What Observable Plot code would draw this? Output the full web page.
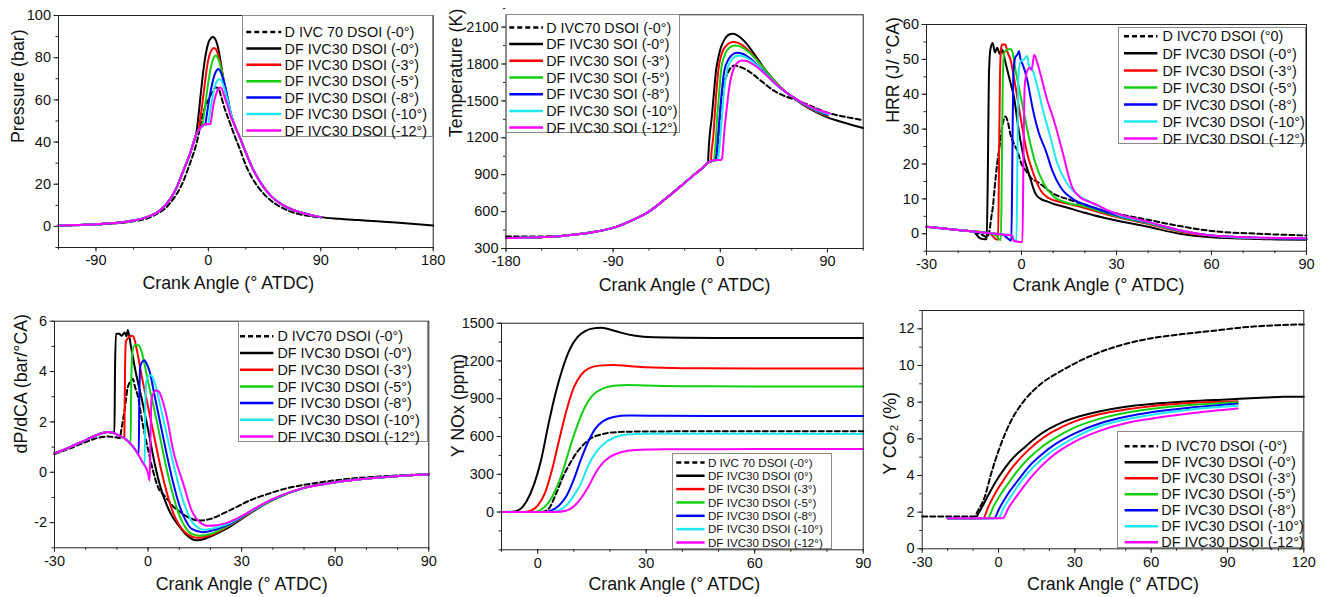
<!DOCTYPE html>
<html><head><meta charset="utf-8">
<script src="https://cdn.jsdelivr.net/npm/d3@7"></script>
<script src="https://cdn.jsdelivr.net/npm/@observablehq/plot@0.6"></script>
<style>
body{margin:0;background:#fff;}
#root{position:relative;width:1327px;height:597px;overflow:hidden;background:#fff;font-family:"Liberation Sans",Arial,sans-serif;}
.panel{position:absolute;}
.legend{position:absolute;background:#fff;border:1px solid #8a8a8a;box-sizing:border-box;}
.legend svg{position:absolute;left:0;top:0;overflow:visible;}
</style></head><body><div id="root"></div>
<script>
// ---------- shared ----------
const seriesColors = ["#000000","#000000","#ff0000","#10d010","#0000ff","#20e8f0","#ff00ff"];

// ---------- Panel 1: Pressure (bar) ----------
const pressureCommon = [[-120,0.4],[-105,0.65],[-90,1.0],[-75,1.6],[-60,2.8],[-50,4.3],[-40,7],[-30,13.5],[-25,19],[-20,26.5],[-15,34],[-12,39.5],[-10,43.2]];
const pressureExpansion = [[20,49.5],[22,46.5],[25,42.5],[30,35],[35,28],[40,22.5],[45,18],[50,14.5],[60,10],[70,7.3],[80,5.7],[90,4.4]];
const pressureTail0 = [[105,3.6],[120,3],[135,2.4],[150,1.8],[165,1.1],[180,0.4]];
const pressureD70 = [[-120,0.4],[-90,0.9],[-60,2.4],[-45,4.8],[-30,11.5],[-20,21.5],[-16,27.8],[-12,34.5],[-9,40.5],[-6,49],[-3,56],[0,60],[3,63.5],[6,65.9],[8,65.5],[10,62],[13,56],[17,49.5],[21,43],[25,37],[30,29],[35,23],[40,18.5],[45,15],[50,12.3],[60,8.5],[70,6.2],[80,5],[90,4.2]];
const pressureDF0 = [[-9,47],[-8,52],[-6,63.5],[-4,74],[-2,82],[0,87],[2,89.3],[3.5,89.8],[5,89.3],[7,86.5],[9,81],[11,73.5],[13,66],[16,58],[18,53]];
const pressureDF3 = [[-8,45.5],[-7,49],[-5,57.5],[-3,67],[-1,76],[1,81.5],[3,84],[4.3,84.6],[6,84],[8,81],[10,76],[12,70],[14,64],[16,58],[18,53]];
const pressureDF5 = [[-8,45.5],[-6,47],[-5.3,47.3],[-4,51],[-2,60],[0,68.5],[2,75.5],[4,79.5],[5.6,81],[7,80.5],[9,77.5],[11,73],[13,67.5],[15,62],[17,56],[18.5,52.5]];
const pressureDF8 = [[-8,45.5],[-6,47],[-4,48],[-3,48.3],[-2.5,48.6],[-1,54],[1,61.5],[3,67.5],[5,72],[7,74.3],[8,74.6],[10,73],[12,69.5],[14,65],[16,59.5],[18,53.5]];
const pressureDF10 = [[-8,45.5],[-6,47],[-4,48],[-2,48.4],[-0.2,48.6],[1,53],[3,60.5],[5,66],[7,69],[8.8,69.8],[10.5,69],[12.5,66],[15,61],[18,53.5]];
const pressureDF12 = [[-8,45.5],[-6,47],[-4,48],[-2,48.4],[1.6,48.5],[2.5,51.5],[4,57.5],[6,62.5],[8,65.3],[9.6,65.9],[11,65],[12.8,61.5],[15.5,57],[18.2,51.6]];
const pressureLegend = ["D IVC 70 DSOI (-0°)","DF IVC30 DSOI (-0°)","DF IVC30 DSOI (-3°)","DF IVC30 DSOI (-5°)","DF IVC30 DSOI (-8°)","DF IVC30 DSOI (-10°)","DF IVC30 DSOI (-12°)"];
const pressureXTicks = [-90,0,90,180];
const pressureYTicks = [0,20,40,60,80,100];

// ---------- Panel 2: Temperature (K) ----------
const tempCommon = [[-180,385],[-165,387],[-150,392],[-135,400],[-120,415],[-105,437],[-90,468],[-75,525],[-60,600],[-45,712],[-30,833],[-20,915],[-15,955],[-12,983],[-10.5,998]];
const tempD70 = [[-180,398],[-160,397],[-140,400],[-120,417],[-105,438],[-90,469],[-75,526],[-60,601],[-45,713],[-30,834],[-20,916],[-15,956],[-12,984],[-10,1000],[-8,1008],[-6,1015],[-4,1030],[-2,1150],[0,1420],[2,1600],[5,1700],[8,1758],[11.7,1787],[16,1778],[23,1747],[34,1665],[45,1583],[56,1532],[63,1510],[70,1484],[80,1442],[90,1404],[105,1370],[120,1344]];
const tempDF0 = [[-9.5,1150],[-8.5,1260],[-7.5,1339],[-5.5,1550],[-3.6,1746],[-1.5,1860],[0.6,1937],[3,1990],[5,2020],[7.5,2040],[10.4,2046],[14,2035],[18,2005],[22,1965],[26,1915],[30,1860],[35,1790],[40,1725],[45,1668],[50,1615],[54,1578],[58,1550],[63,1515],[70,1465],[80,1410],[90,1366],[105,1320],[120,1279]];
const tempDF3 = [[-8,1005],[-7.3,1100],[-6,1200],[-5,1339],[-3.5,1550],[-1.7,1747],[1,1880],[5,1950],[8,1972],[11.2,1978],[15,1972],[19,1950],[23,1917],[27,1877],[31,1830],[36,1770],[41,1712],[46,1658],[51,1608],[58,1550],[63,1517],[70,1470],[80,1417],[90,1377]];
const tempDF5 = [[-8,1008],[-5.5,1012],[-4,1150],[-2.8,1339],[-1,1560],[0.6,1747],[4,1880],[8,1935],[12.3,1951],[16,1945],[20,1925],[25,1887],[30,1838],[35,1782],[40,1724],[45,1668],[50,1615],[58,1550],[63,1518],[70,1473],[80,1421],[90,1382]];
const tempDF8 = [[-8,1008],[-6,1015],[-3.8,1017],[-2,1200],[-0.8,1339],[1,1550],[3.4,1747],[7,1840],[10,1875],[14,1891],[18,1886],[22,1867],[26,1838],[30,1803],[35,1755],[40,1703],[45,1652],[50,1606],[58,1550],[63,1519],[70,1475],[80,1425],[90,1387]];
const tempDF10 = [[-8,1008],[-6,1015],[-4,1018],[-2,1019],[-0.5,1150],[1.1,1339],[3,1560],[5.6,1747],[10,1840],[15.1,1869],[19,1863],[23,1846],[27,1820],[31,1787],[36,1742],[41,1693],[46,1644],[51,1600],[58,1550],[63,1520],[70,1477],[80,1429],[91,1392]];
const tempDF12 = [[-8,1008],[-6.4,1016],[-3,1019],[0.6,1020],[1.4,1030],[3.4,1257],[5.5,1450],[7.5,1610],[11.7,1774],[15,1815],[17.9,1828],[21,1826],[25,1812],[29,1788],[33,1758],[38,1715],[43,1670],[48,1626],[53,1588],[58,1550],[63,1521],[70,1480],[80,1434],[92,1398]];
const tempLegend = ["D IVC70 DSOI (-0°)","DF IVC30 SOI (-0°)","DF IVC30 SOI (-3°)","DF IVC30 SOI (-5°)","DF IVC30 SOI (-8°)","DF IVC30 SOI (-10°)","DF IVC30 SOI (-12°)"];
const tempXTicks = [-180,-90,0,90];
const tempYTicks = [300,600,900,1200,1500,1800,2100];

// ---------- Panel 3: HRR (J/°CA) ----------
const hrrD70 = [[-30,2],[-20,1.05],[-15,0.5],[-12,-0.5],[-11,-1],[-10.2,0.5],[-9.5,5],[-9,8],[-8.5,13],[-7.7,20],[-6.8,26],[-6.1,30.7],[-5.1,33.6],[-4.3,32],[-3.5,28.5],[-2.5,26],[-1.4,24],[0,20],[1.3,18.2],[3,16],[5,14.9],[10,11.5],[15,9.8],[20,8.3],[25,6.9],[30,5.8],[40,4],[50,2.2],[60,0.8],[75,0],[90,-0.5]];
const hrrDF0 = [[-30,2],[-20,1.05],[-15,0.6],[-14,-0.5],[-13,-1.3],[-11.5,-1.6],[-11,-1.5],[-10.6,20],[-10.3,45],[-9.8,53],[-9.1,54.7],[-8.4,52],[-7.7,53.3],[-6.8,51.5],[-6.1,52.8],[-5.3,50],[-4.5,47],[-3.4,43],[-2.4,39.3],[-0.9,29.8],[0.7,22],[2.3,17.3],[4.4,11.5],[6,10],[8,9.3],[10,8.6],[14,7.6],[20,6],[25,4.8],[30,3.8],[40,2],[50,0],[60,-1],[75,-1.5],[90,-1.7]];
const hrrDF3 = [[-30,2],[-20,1.05],[-10,0.15],[-9,-0.8],[-8,-1.6],[-7.4,-1.7],[-7.1,20],[-6.8,45],[-6.4,53.5],[-6.1,54.3],[-5.1,54.3],[-4.4,52],[-3.5,50],[-1.9,42.2],[0.2,30.7],[1.8,23],[3.4,18.2],[6,12.5],[8.6,10.2],[12,9.2],[16,8.3],[20,7.4],[25,6],[30,4.8],[40,2.8],[50,0.6],[60,-0.6],[75,-1.3],[90,-1.5]];
const hrrDF5 = [[-30,2],[-20,1.05],[-10,0.15],[-8,-0.6],[-7,-1.6],[-6.5,-1.8],[-6.2,20],[-5.9,45],[-5.4,52],[-4.5,52.8],[-3.5,53],[-3,52.5],[-1.9,47],[0.2,37.4],[2.3,27.8],[4.4,20.2],[7,14.4],[10.2,10.6],[14.4,8.9],[20,7.8],[25,6.4],[30,5],[40,3],[50,0.8],[60,-0.5],[75,-1.2],[90,-1.4]];
const hrrDF8 = [[-30,2],[-20,1.05],[-10,0.15],[-6,-0.2],[-4.5,-1.2],[-3.2,-2],[-2.9,20],[-2.6,45],[-2,50.5],[-1.2,51.5],[-0.8,52.3],[-0.3,50],[0.4,48.5],[1.8,44.2],[3.4,36.5],[5.5,28.8],[7.6,24],[9.7,18.2],[12.3,13.4],[16.5,9.8],[20,8.4],[25,6.8],[30,5.3],[40,3.2],[50,0.9],[60,-0.5],[75,-1.2],[90,-1.4]];
const hrrDF10 = [[-30,2],[-20,1.05],[-10,0.15],[-6,-0.2],[-3,-0.5],[-2,-2.1],[-1.6,-2.2],[-1.3,20],[-1.0,45],[-0.3,49.5],[0.8,50],[1.8,51],[2.4,48],[3.2,47.5],[5,42.2],[7,34.6],[9.1,27.8],[11.3,20.2],[14.4,14.4],[18.6,10.6],[22,9],[26,7.2],[30,5.6],[40,3.3],[50,1],[60,-0.5],[75,-1.2],[90,-1.3]];
const hrrDF12 = [[-30,2],[-20,1.05],[-10,0.15],[-6,-0.2],[-3,-0.5],[-2.5,-2],[0.3,-2.4],[0.6,20],[1.0,42],[1.6,46],[2.5,47.5],[3.2,47],[4,51.3],[5,49],[6.5,44],[8.1,38.4],[10.2,32.6],[12.8,24],[16,13.4],[18.6,10.4],[21,9.3],[24,8.2],[27,6.8],[30,5.8],[40,3.4],[50,1],[60,-0.5],[75,-1.1],[90,-1.3]];
const hrrLegend = ["D IVC70 DSOI (°0)","DF IVC30 DSOI (-0°)","DF IVC30 DSOI (-3°)","DF IVC30 DSOI (-5°)","DF IVC30 DSOI (-8°)","DF IVC30 DSOI (-10°)","DF IVC30 DSOI (-12°)"];
const hrrXTicks = [-30,0,30,60,90];
const hrrYTicks = [0,10,20,30,40,50,60];

// ---------- Panel 4: dP/dCA (bar/°CA) ----------
const dpCommon = [[-30,0.75],[-25,1.0],[-20,1.28],[-16,1.5],[-13,1.6],[-11,1.56]];
const dpTail = [[50,-0.62],[60,-0.4],[75,-0.2],[90,-0.08]];
const dpD70 = [[-30,0.72],[-25,0.95],[-20,1.2],[-16,1.37],[-13,1.42],[-10,1.38],[-9,1.36],[-8.6,1.66],[-7.5,2.5],[-6.5,3.38],[-5.4,3.64],[-4.9,3.71],[-4.2,3.4],[-3.2,2.98],[-2,2.1],[-1.1,1.53],[0,0.9],[1.5,0.1],[3.2,-0.6],[5,-0.9],[6.5,-1.12],[8,-1.35],[9.7,-1.52],[12.9,-1.79],[16.7,-1.92],[20,-1.85],[25,-1.58],[28,-1.4],[33,-1.1],[38,-0.88],[45,-0.62],[50,-0.5],[60,-0.32],[75,-0.16],[90,-0.08]];
const dpDF0 = [[-10.8,1.55],[-10.6,4],[-10.3,5.5],[-9.2,5.5],[-8.5,5.42],[-7.5,5.55],[-6.9,5.4],[-6.5,5.65],[-5.5,5.0],[-4,4.0],[-2,2.9],[0,1.7],[2.2,0.3],[4,-0.6],[5.4,-1.12],[7.5,-1.7],[9.7,-2.1],[12,-2.45],[15.5,-2.7],[18,-2.65],[20,-2.55],[25,-2.25],[30,-1.85],[35,-1.45],[40,-1.1]];
const dpDF3 = [[-10,1.5],[-8,1.38],[-7.6,1.36],[-7.4,4],[-7.1,5.2],[-6.2,5.35],[-5.5,5.42],[-4.7,5.4],[-4.2,5.2],[-3.5,4.8],[-2,3.8],[0,2.6],[2,1.4],[4,0.2],[6,-0.8],[8,-1.6],[10,-2.1],[12,-2.4],[16,-2.6],[20,-2.5],[25,-2.2],[30,-1.82],[35,-1.43],[40,-1.1]];
const dpDF5 = [[-10,1.5],[-8,1.38],[-6,1.18],[-5.6,1.12],[-5.4,3.5],[-5.0,4.8],[-4.2,5.05],[-3.2,5.05],[-2.5,4.95],[-1.5,4.5],[0,3.6],[2,2.5],[4,1.3],[6,0.1],[8,-0.9],[10,-1.7],[12,-2.2],[14,-2.45],[16.5,-2.52],[20,-2.45],[25,-2.17],[30,-1.8],[35,-1.42],[40,-1.1]];
const dpDF8 = [[-10,1.5],[-8,1.38],[-6,1.18],[-4,0.88],[-3,0.7],[-2.8,3],[-2.5,4.2],[-1.8,4.4],[-1.2,4.45],[-0.6,4.35],[0.5,4.0],[2,3.1],[4,1.9],[6,0.7],[8,-0.4],[10,-1.3],[12,-1.9],[14,-2.25],[17.5,-2.38],[20,-2.33],[25,-2.12],[30,-1.78],[35,-1.4],[40,-1.08]];
const dpDF10 = [[-10,1.5],[-8,1.38],[-6,1.18],[-4,0.88],[-2,0.45],[-1.1,0.27],[-0.9,2.5],[-0.6,3.6],[0,3.8],[0.8,3.85],[1.6,3.75],[2.5,3.4],[4,2.6],[6,1.5],[8,0.4],[10,-0.6],[12,-1.4],[14,-1.95],[16,-2.2],[18,-2.28],[20,-2.25],[25,-2.08],[30,-1.76],[35,-1.4],[40,-1.07]];
const dpDF12 = [[-10,1.5],[-8,1.38],[-6,1.18],[-4,0.88],[-2,0.45],[0,-0.05],[0.5,-0.33],[0.8,1.5],[1.1,2.9],[1.6,3.1],[2.5,3.25],[3.5,3.2],[4.5,2.9],[6,2.2],[8,0.9],[11.3,-0.46],[14,-1.52],[17.3,-2.05],[19,-2.12],[22,-2.1],[25,-2.02],[30,-1.74],[35,-1.38],[40,-1.06]];
const dpLegend = ["D IVC70 DSOI (-0°)","DF IVC30 DSOI (-0°)","DF IVC30 DSOI (-3°)","DF IVC30 DSOI (-5°)","DF IVC30 DSOI (-8°)","DF IVC30 DSOI (-10°)","DF IVC30 DSOI (-12°)"];
const dpXTicks = [-30,0,30,60,90];
const dpYTicks = [-2,0,2,4,6];

// ---------- Panel 5: Y NOx (ppm) ----------
const noxD70 = [[-10,0],[-5,0],[1,0],[3,25],[5,140],[7,280],[9,390],[11,480],[13,545],[15,590],[18,620],[22,635],[30,640],[45,641],[90,641]];
const noxDF0 = [[-10,0],[-7,2],[-5,20],[-3,90],[-1,220],[1,420],[3,700],[5,950],[7,1150],[9,1300],[11,1390],[13,1435],[15,1457],[17.5,1463],[20,1450],[23,1425],[27,1400],[32,1388],[40,1384],[60,1383],[90,1383]];
const noxDF3 = [[-10,0],[-4,0],[-2,10],[0,50],[2,150],[4,340],[6,580],[8,810],[10,990],[12,1090],[14,1140],[17,1163],[21,1168],[25,1160],[30,1150],[40,1143],[60,1141],[90,1141]];
const noxDF5 = [[-10,0],[-1,0],[1,20],[3,75],[5,180],[7,330],[9,520],[11,690],[13,830],[15,920],[18,980],[22,1005],[25,1010],[30,1005],[40,1000],[60,998],[90,997]];
const noxDF8 = [[-10,0],[2,0],[4,15],[6,55],[8,130],[10,260],[12,420],[14,560],[16,665],[18,720],[21,755],[25,766],[35,764],[60,763],[90,762]];
const noxDF10 = [[-10,0],[3.5,0],[6,15],[8,55],[10,130],[12,230],[14,370],[16,470],[18,535],[21,590],[25,615],[30,622],[60,621],[90,620]];
const noxDF12 = [[-10,0],[5,0],[8,12],[10,45],[12,110],[14,200],[16,310],[18,390],[20,438],[23,475],[27,492],[35,498],[60,500],[90,500]];
const noxLegend = ["D IVC 70 DSOI (-0°)","DF IVC30 DSOI (0°)","DF IVC30 DSOI (-3°)","DF IVC30 DSOI (-5°)","DF IVC30 DSOI (-8°)","DF IVC30 DSOI (-10°)","DF IVC30 DSOI (-12°)"];
const noxXTicks = [0,30,60,90];
const noxYTicks = [0,300,600,900,1200,1500];

// ---------- Panel 6: Y CO2 (%) ----------
const co2D70 = [[-30,1.76],[-20,1.76],[-9.5,1.76],[-8,2.1],[-5.5,2.8],[-2.9,4.1],[0.4,5.5],[5,7.0],[10.2,8.1],[16.7,9.0],[24.6,9.7],[35,10.45],[45.5,11.0],[58.6,11.45],[71.6,11.7],[84.7,11.9],[97.8,12.1],[110,12.2],[120,12.24]];
const co2DF0 = [[-20,1.67],[-9,1.67],[-8,1.9],[-6,2.4],[-3,3.2],[0,3.9],[3,4.5],[6,5.0],[10,5.5],[15,6.1],[20,6.55],[25,6.9],[30,7.15],[40,7.5],[50,7.75],[60,7.9],[75,8.05],[90,8.15],[105,8.25],[112,8.3],[120,8.3]];
const co2DF3 = [[-20,1.67],[-6,1.67],[-4,2.3],[-1,3.1],[2,3.75],[5.5,4.45],[10,5.15],[15,5.78],[20,6.28],[25,6.65],[30,6.95],[40,7.35],[50,7.6],[60,7.78],[75,7.95],[94,8.05]];
const co2DF5 = [[-20,1.67],[-4.3,1.67],[-2,2.3],[1,3.0],[4,3.6],[8,4.35],[12,4.95],[17,5.55],[22,6.02],[30,6.62],[40,7.1],[50,7.42],[60,7.63],[75,7.84],[94,8.0]];
const co2DF8 = [[-20,1.67],[-1.8,1.67],[0.5,2.25],[3.5,2.95],[7.5,3.7],[12,4.5],[17,5.15],[22,5.68],[30,6.3],[40,6.85],[50,7.2],[60,7.45],[75,7.7],[94,7.92]];
const co2DF10 = [[-20,1.67],[-0.2,1.67],[2.3,2.3],[5.3,2.95],[9,3.7],[14,4.5],[20,5.22],[25,5.68],[30,6.08],[40,6.7],[50,7.05],[60,7.3],[75,7.58],[94,7.8]];
const co2DF12 = [[-20,1.67],[1.6,1.67],[4,2.25],[7,2.85],[11,3.6],[16,4.4],[22,5.15],[30,5.85],[40,6.45],[50,6.85],[60,7.1],[75,7.38],[94,7.65]];
const co2Legend = ["D IVC70 DSOI (-0°)","DF IVC30 DSOI (-0°)","DF IVC30 DSOI (-3°)","DF IVC30 DSOI (-5°)","DF IVC30 DSOI (-8°)","DF IVC30 DSOI (-10°)","DF IVC30 DSOI (-12°)"];
const co2XTicks = [-30,0,30,60,90,120];
const co2YTicks = [0,2,4,6,8,10,12];

// ---------- build ----------
const root = document.getElementById("root");
const FONT = '"Liberation Sans", Arial, sans-serif';
const fmt = d => String(d);
const range = (a, b, s) => d3.range(a, b + s / 2, s);

function panel(cfg) {
  const marks = [
    Plot.axisX(cfg.xMinor, {tickSize: 2.5, tickFormat: () => "", label: null, stroke: "#222"}),
    Plot.axisX(cfg.xTicks, {tickSize: 4.5, tickPadding: 3, tickFormat: fmt, label: null, fontSize: 14.5, stroke: "#222", fill: "#111"}),
    Plot.axisY(cfg.yMinor, {tickSize: 2.5, tickFormat: () => "", label: null, stroke: "#222"}),
    Plot.axisY(cfg.yTicks, {tickSize: 4.5, tickPadding: 3, tickFormat: fmt, label: null, fontSize: 14.5, stroke: "#222", fill: "#111"})
  ];
  cfg.series.forEach((s, i) => {
    marks.push(Plot.line(s, {x: d => d[0], y: d => d[1], stroke: seriesColors[i], strokeWidth: 2,
      strokeDasharray: i === 0 ? "5,3" : null, curve: "monotone-x"}));
  });
  marks.push(Plot.frame({stroke: "#222", strokeWidth: 1}));
  marks.push(Plot.text([cfg.xLabel], {text: d => d, frameAnchor: "bottom", dy: cfg.xLabelDy, dx: cfg.xLabelDx,
    fontSize: 17.8, lineAnchor: "middle", fill: "#111"}));
  marks.push(Plot.text([cfg.yLabel], {text: d => d, frameAnchor: "left", rotate: -90, dx: cfg.yLabelDx, dy: cfg.yLabelDy,
    fontSize: 17.8, lineAnchor: "middle", fill: "#111"}));
  const chart = Plot.plot({
    width: cfg.width, height: cfg.height,
    marginLeft: cfg.m[0], marginRight: cfg.m[1], marginTop: cfg.m[2], marginBottom: cfg.m[3],
    x: {type: "linear", domain: cfg.xDomain},
    y: {type: "linear", domain: cfg.yDomain},
    style: {fontFamily: FONT, fontSize: "14.5px", color: "#111", background: "transparent", overflow: "visible"},
    marks
  });
  const holder = document.createElement("div");
  holder.className = "panel";
  holder.style.left = cfg.left + "px";
  holder.style.top = cfg.top + "px";
  holder.appendChild(chart);
  root.appendChild(holder);

  // legend
  const L = cfg.legend;
  const box = document.createElement("div");
  box.className = "legend";
  const w = L.box[2] - L.box[0], h = L.box[3] - L.box[1];
  Object.assign(box.style, {left: L.box[0] + "px", top: L.box[1] + "px", width: w + "px", height: h + "px"});
  let svg = `<svg width="${w}" height="${h}" font-family='${FONT}' font-size="${L.fontSize}">`;
  cfg.labels.forEach((lab, i) => {
    const y = L.rowTop + i * L.step;
    svg += `<line x1="${L.x0}" x2="${L.x1}" y1="${y}" y2="${y}" stroke="${seriesColors[i]}" stroke-width="2.5"${i === 0 ? ' stroke-dasharray="5,3"' : ''}/>`;
    svg += `<text x="${L.tx}" y="${y}" dy="0.36em" fill="#111">${lab}</text>`;
  });
  svg += `</svg>`;
  box.innerHTML = svg;
  root.appendChild(box);
}

const xTitle = "Crank Angle (° ATDC)";

panel({left: 0, top: 0, width: 440, height: 300, m: [58, 7.3, 15, 53],
  xDomain: [-120, 180], yDomain: [-10, 100],
  xTicks: pressureXTicks, xMinor: range(-120, 180, 30), yTicks: pressureYTicks, yMinor: range(-10, 100, 10),
  series: [pressureD70, pressureCommon.concat(pressureDF0, pressureExpansion, pressureTail0), pressureCommon.concat(pressureDF3, pressureExpansion),
    pressureCommon.concat(pressureDF5, pressureExpansion), pressureCommon.concat(pressureDF8, pressureExpansion),
    pressureCommon.concat(pressureDF10, pressureExpansion), pressureCommon.concat(pressureDF12, pressureExpansion)],
  labels: pressureLegend, xLabel: xTitle, yLabel: "Pressure (bar)",
  xLabelDy: 36, xLabelDx: -17.5, yLabelDx: -40.5, yLabelDy: 11.5,
  legend: {box: [241.7, 15, 432.7, 136.7], rowTop: 16, step: 16.4, x0: 3.3, x1: 38.3, tx: 41.6, fontSize: 14.4}
});

panel({left: 440, top: 0, width: 440, height: 300, m: [65.5, 17.3, 14.3, 52],
  xDomain: [-180, 120], yDomain: [300, 2200],
  xTicks: tempXTicks, xMinor: range(-180, 120, 30), yTicks: tempYTicks, yMinor: range(300, 2200, 150),
  series: [tempD70, tempCommon.concat(tempDF0), tempCommon.concat(tempDF3), tempCommon.concat(tempDF5),
    tempCommon.concat(tempDF8), tempCommon.concat(tempDF10), tempCommon.concat(tempDF12)],
  labels: tempLegend, xLabel: xTitle, yLabel: "Temperature (K)",
  xLabelDy: 37, xLabelDx: 0, yLabelDx: -49.7, yLabelDy: 5.5,
  legend: {box: [505.7, 14.3, 680, 133.3], rowTop: 12.4, step: 16.7, x0: 2.3, x1: 36, tx: 39.3, fontSize: 14.3}
});

panel({left: 880, top: 0, width: 447, height: 300, m: [46, 21, 24, 49.3],
  xDomain: [-30, 90], yDomain: [-5, 60],
  xTicks: hrrXTicks, xMinor: range(-30, 90, 10), yTicks: hrrYTicks, yMinor: range(-5, 60, 5),
  series: [hrrD70, hrrDF0, hrrDF3, hrrDF5, hrrDF8, hrrDF10, hrrDF12],
  labels: hrrLegend, xLabel: xTitle, yLabel: "HRR (J/ °CA)",
  xLabelDy: 34.3, xLabelDx: -18, yLabelDx: -33.5, yLabelDy: -15,
  legend: {box: [1118.3, 26.7, 1306, 144], rowTop: 8.3, step: 17.05, x0: 5, x1: 38.4, tx: 43.4, fontSize: 14.4}
});

panel({left: 0, top: 300, width: 440, height: 297, m: [54, 11.7, 20.7, 49.7],
  xDomain: [-30, 90], yDomain: [-3, 6],
  xTicks: dpXTicks, xMinor: range(-30, 90, 10), yTicks: dpYTicks, yMinor: range(-3, 6, 1),
  series: [dpD70, dpCommon.concat(dpDF0, dpTail), dpCommon.concat(dpDF3, dpTail), dpCommon.concat(dpDF5, dpTail),
    dpCommon.concat(dpDF8, dpTail), dpCommon.concat(dpDF10, dpTail), dpCommon.concat(dpDF12, dpTail)],
  labels: dpLegend, xLabel: xTitle, yLabel: "dP/dCA (bar/°CA)",
  xLabelDy: 36, xLabelDx: 0, yLabelDx: -33.5, yLabelDy: 19,
  legend: {box: [238.3, 320.7, 428.3, 441.7], rowTop: 14.3, step: 16.7, x0: 1, x1: 34.4, tx: 38.4, fontSize: 14.4}
});

panel({left: 440, top: 300, width: 440, height: 297, m: [61, 17.3, 22.7, 47.7],
  xDomain: [-10, 90], yDomain: [-300, 1500],
  xTicks: noxXTicks, xMinor: range(-10, 90, 10), yTicks: noxYTicks, yMinor: range(-300, 1500, 150),
  series: [noxD70, noxDF0, noxDF3, noxDF5, noxDF8, noxDF10, noxDF12],
  labels: noxLegend, xLabel: xTitle, yLabel: "Y NOx (ppm)",
  xLabelDy: 34, xLabelDx: -8, yLabelDx: -43.5, yLabelDy: 20.7,
  legend: {box: [671.7, 453.3, 831.7, 549.3], rowTop: 8.4, step: 13.35, x0: 3.3, x1: 31.6, tx: 35, fontSize: 11.6}
});

panel({left: 880, top: 300, width: 447, height: 297, m: [41.7, 23.7, 10, 48.7],
  xDomain: [-30, 120], yDomain: [0, 13],
  xTicks: co2XTicks, xMinor: range(-30, 120, 10), yTicks: co2YTicks, yMinor: range(0, 13, 1),
  series: [co2D70, co2DF0, co2DF3, co2DF5, co2DF8, co2DF10, co2DF12],
  labels: co2Legend, xLabel: xTitle, yLabel: "Y CO₂ (%)",
  xLabelDy: 35, xLabelDx: 0, yLabelDx: -31.7, yLabelDy: 45,
  legend: {box: [1116.7, 430.7, 1303.3, 548.3], rowTop: 14.3, step: 16, x0: 6.6, x1: 40, tx: 43.3, fontSize: 14.4}
});
</script></body></html>
